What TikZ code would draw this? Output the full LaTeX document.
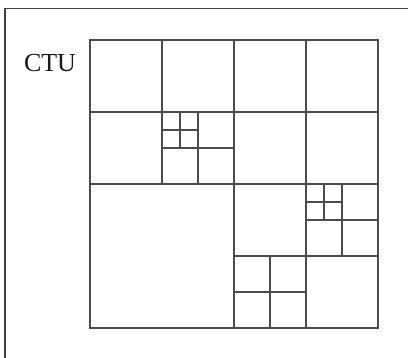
\documentclass[tikz,border=0pt]{standalone}
\usepackage{fontspec}
\setmainfont{Liberation Serif}
\begin{document}
\begin{tikzpicture}[x=1pt,y=-1pt,
  gridline/.style={draw=black!70,line width=2pt},
  frameline/.style={draw=black!75,line width=1.3pt}]
\useasboundingbox (0,0) rectangle (408,357);
\fill[white] (0,0) rectangle (408,357);
\draw[frameline] (5,420) -- (5,8.5) -- (420,8.5);
\node[font=\fontsize{26}{30}\selectfont,inner sep=0pt,text=black!90] (ctu) at (50,63) {CTU};
% top-left quadrant
\draw[gridline] (162,40) -- (162,184);
\draw[gridline] (90,112) -- (234,112);
\draw[gridline] (198,112) -- (198,184);
\draw[gridline] (162,148) -- (234,148);
\draw[gridline] (180,112) -- (180,148);
\draw[gridline] (162,130) -- (198,130);
% top-right quadrant
\draw[gridline] (306,40) -- (306,184);
\draw[gridline] (234,112) -- (378,112);
% bottom-right quadrant
\draw[gridline] (306,184) -- (306,328);
\draw[gridline] (234,256) -- (378,256);
\draw[gridline] (342,184) -- (342,256);
\draw[gridline] (306,220) -- (378,220);
\draw[gridline] (324,184) -- (324,220);
\draw[gridline] (306,202) -- (342,202);
\draw[gridline] (270,256) -- (270,328);
\draw[gridline] (234,292) -- (306,292);
% quadrant lines and outline
\draw[gridline] (234,40) -- (234,328);
\draw[gridline] (90,184) -- (378,184);
\draw[gridline] (90,40) rectangle (378,328);
\end{tikzpicture}
\end{document}
